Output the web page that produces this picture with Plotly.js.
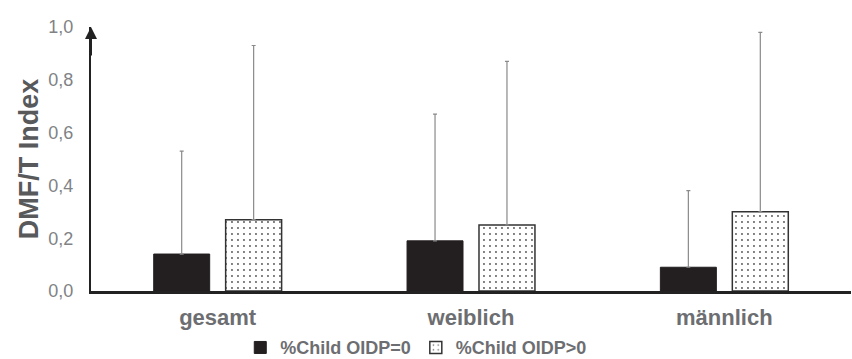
<!DOCTYPE html>
<html>
<head>
<meta charset="utf-8">
<script src="https://cdn.plot.ly/plotly-3.0.1.min.js"></script>
<style>html,body{margin:0;padding:0;background:#fff;}#chart{width:852px;height:359px;}</style>
</head>
<body>
<div id="chart"></div>
<script>
const categories = ["gesamt", "weiblich", "männlich"];
const seriesNames = ["%Child OIDP=0", "%Child OIDP>0"];
const meanOIDP0 = [0.14, 0.19, 0.09];
const sdOIDP0 = [0.39, 0.48, 0.29];
const meanOIDPpos = [0.27, 0.25, 0.30];
const sdOIDPpos = [0.66, 0.62, 0.68];
const yTickVals = [0, 0.2, 0.4, 0.6, 0.8, 1.0];
const yTickText = ["0,0", "0,2", "0,4", "0,6", "0,8", "1,0"];

const textGray = "#6d6e71";
const font = "Liberation Sans, Arial, sans-serif";

const errStyle = (arr) => ({
  type: "data", symmetric: false, array: arr, arrayminus: arr.map(() => 0),
  color: "#8a8a8a", thickness: 1.2, width: 2
});

const traces = [
  {
    type: "bar", name: seriesNames[0], x: categories, y: meanOIDP0,
    marker: { color: "#231f20", line: { color: "#231f20", width: 1 } },
    error_y: errStyle(sdOIDP0)
  },
  {
    type: "bar", name: seriesNames[1], x: categories, y: meanOIDPpos,
    marker: {
      color: "#ffffff",
      line: { color: "#333333", width: 1.5 },
      pattern: { shape: ".", fgcolor: "#555555", bgcolor: "#ffffff", size: 6, solidity: 0.08 }
    },
    error_y: errStyle(sdOIDPpos)
  }
];

const layout = {
  width: 852, height: 359,
  margin: { l: 91, r: 1, t: 27, b: 68, autoexpand: false },
  paper_bgcolor: "#ffffff", plot_bgcolor: "#ffffff",
  font: { family: font, color: textGray },
  barmode: "group", bargap: 0.432, bargroupgap: 0.222,
  showlegend: true,
  legend: {
    orientation: "h", x: 0.428, xanchor: "center", y: -0.215, yanchor: "middle",
    bgcolor: "rgba(0,0,0,0)",
    font: { family: font, size: 18, color: textGray, weight: "bold" },
    itemwidth: 30, tracegroupgap: 0, traceorder: "normal"
  },
  xaxis: {
    type: "category", range: [-0.5, 2.5],
    showline: true, linecolor: "#222222", linewidth: 2.5,
    ticks: "", showgrid: false, zeroline: false,
    tickfont: { family: font, size: 22, color: textGray, weight: "bold" },
    ticklabelstandoff: 5
  },
  yaxis: {
    range: [0, 1], showline: true, linecolor: "#222222", linewidth: 2,
    ticks: "", showgrid: false, zeroline: false,
    tickvals: yTickVals, ticktext: yTickText,
    tickfont: { family: font, size: 18, color: "#808285" },
    ticklabelstandoff: 12,
    title: { text: "DMF/T Index", font: { family: font, size: 27, color: "#58595b", weight: "bold" }, standoff: 2 }
  },
  annotations: [{
    xref: "paper", yref: "paper", x: 0, y: 1.0, ax: 0, ay: 30,
    showarrow: true, arrowhead: 2, arrowsize: 1.2, arrowwidth: 2, arrowcolor: "#222222", text: ""
  }]
};

Plotly.newPlot("chart", traces, layout, { displayModeBar: false, staticPlot: true });
</script>
</body>
</html>
